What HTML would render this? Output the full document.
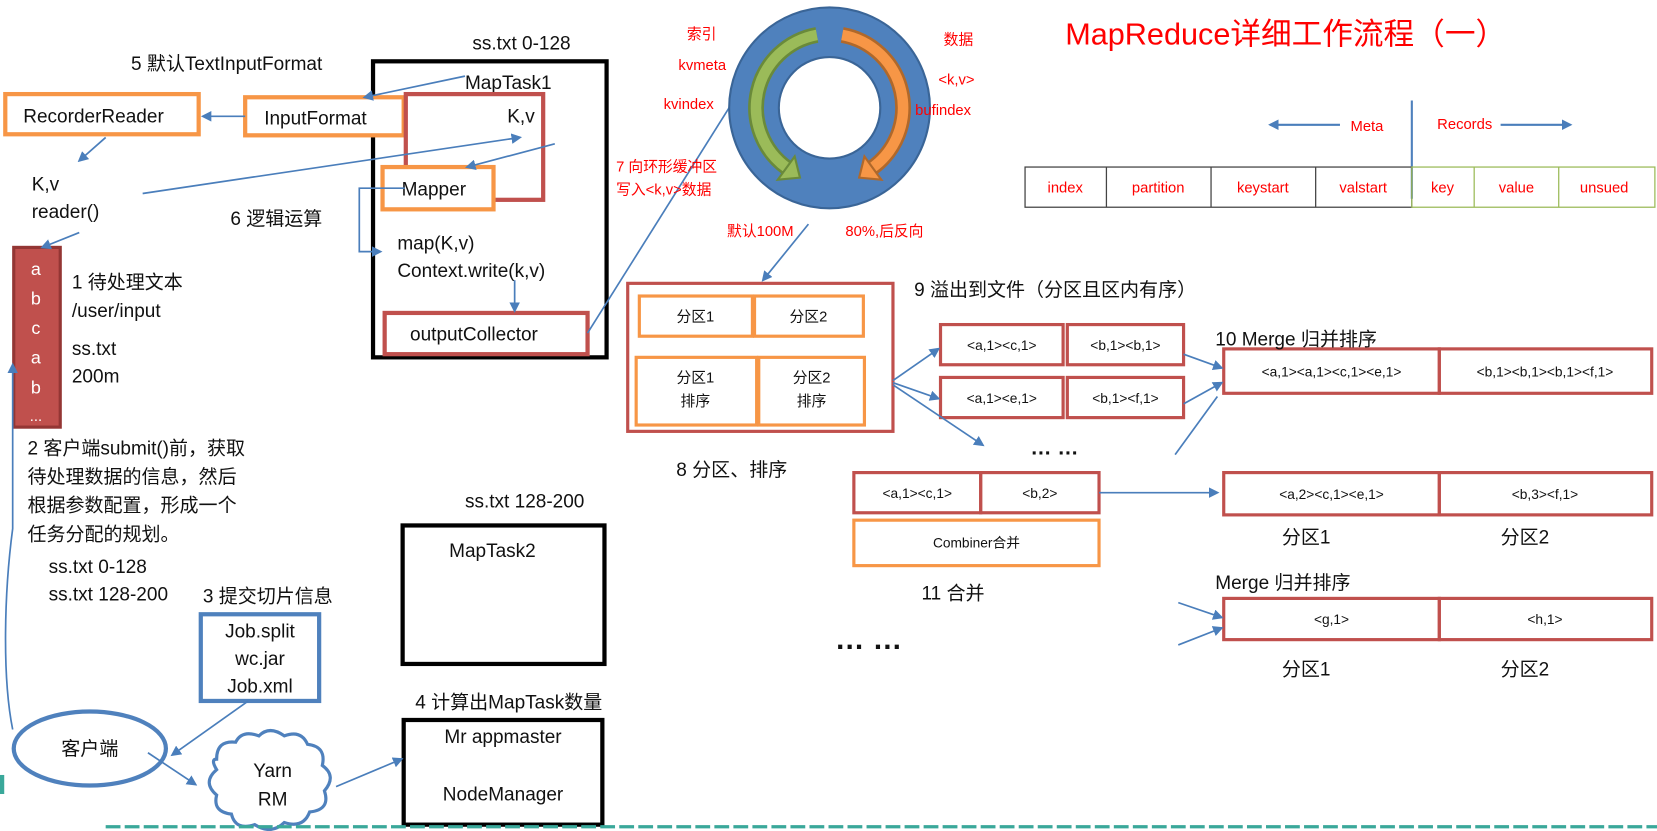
<!DOCTYPE html>
<html><head><meta charset="utf-8"><style>
html,body{margin:0;padding:0;background:#fff;width:1657px;height:831px;overflow:hidden}
svg{display:block}
text{font-family:"Liberation Sans","Noto Sans CJK SC",sans-serif;fill:#111}
.r{fill:#ff0000}
.w{fill:#fff}
</style></head><body>
<svg width="1657" height="831" viewBox="0 0 1568 786" preserveAspectRatio="none" xmlns="http://www.w3.org/2000/svg">
<defs>
<marker id="a" markerWidth="10" markerHeight="10" refX="8" refY="5" orient="auto" markerUnits="userSpaceOnUse"><path d="M0,0 L10,5 L0,10 z" fill="#4a7ebb"/></marker>
</defs>
<g font-size="18">
<text x="1008" y="42" font-size="29" class="r">MapReduce详细工作流程（一）</text>

<text x="124" y="66">5 默认TextInputFormat</text>
<text x="447" y="47">ss.txt 0-128</text>
<rect x="353" y="58" width="221" height="280" fill="none" stroke="#000" stroke-width="4"/>
<text x="440" y="84">MapTask1</text>
<rect x="5" y="89" width="183" height="38" fill="#fff" stroke="#f79646" stroke-width="4"/>
<text x="22" y="116">RecorderReader</text>
<rect x="232" y="92" width="150" height="36" fill="#fff" stroke="#f79646" stroke-width="4"/>
<text x="250" y="118">InputFormat</text>
<rect x="384" y="89" width="130" height="100" fill="none" stroke="#c0504d" stroke-width="4"/>
<text x="480" y="116">K,v</text>
<rect x="362" y="158" width="105" height="40" fill="#fff" stroke="#f79646" stroke-width="4"/>
<text x="380" y="185">Mapper</text>
<text x="376" y="236">map(K,v)</text>
<text x="376" y="262">Context.write(k,v)</text>
<rect x="364" y="296" width="192" height="39" fill="#fff" stroke="#c0504d" stroke-width="4"/>
<text x="388" y="322">outputCollector</text>
<text x="218" y="213">6 逻辑运算</text>
<text x="30" y="180">K,v</text>
<text x="30" y="206">reader()</text>

<rect x="13" y="234" width="44" height="170" fill="#c0504d" stroke="#943634" stroke-width="3"/>
<g font-size="17" text-anchor="middle">
<text x="34" y="260" class="w">a</text><text x="34" y="288" class="w">b</text><text x="34" y="316" class="w">c</text><text x="34" y="344" class="w">a</text><text x="34" y="372" class="w">b</text><text x="34" y="398" class="w" font-size="14">...</text>
</g>
<text x="68" y="273">1 待处理文本</text>
<text x="68" y="300">/user/input</text>
<text x="68" y="336">ss.txt</text>
<text x="68" y="362">200m</text>
<text x="26" y="430">2 客户端submit()前，获取</text>
<text x="26" y="457">待处理数据的信息，然后</text>
<text x="26" y="484">根据参数配置，形成一个</text>
<text x="26" y="511">任务分配的规划。</text>
<text x="46" y="542">ss.txt  0-128</text>
<text x="46" y="568">ss.txt  128-200</text>
<text x="192" y="570">3 提交切片信息</text>
<rect x="190" y="581" width="112" height="82" fill="#fff" stroke="#4f81bd" stroke-width="4"/>
<text x="246" y="603" text-anchor="middle">Job.split</text>
<text x="246" y="629" text-anchor="middle">wc.jar</text>
<text x="246" y="655" text-anchor="middle">Job.xml</text>
<text x="440" y="480">ss.txt 128-200</text>
<rect x="381" y="497" width="191" height="131" fill="none" stroke="#000" stroke-width="4"/>
<text x="425" y="527">MapTask2</text>
<text x="393" y="670">4 计算出MapTask数量</text>
<rect x="382" y="681" width="188" height="99" fill="none" stroke="#000" stroke-width="4"/>
<text x="476" y="703" text-anchor="middle">Mr appmaster</text>
<text x="476" y="757" text-anchor="middle">NodeManager</text>
<ellipse cx="85" cy="708" rx="72" ry="35" fill="#fff" stroke="#4f81bd" stroke-width="4"/>
<text x="85" y="714" text-anchor="middle">客户端</text>
<path d="M205,718 q0,-18 18,-16 q6,-12 22,-6 q10,-10 24,0 q16,-6 22,8 q18,2 14,20 q14,10 2,24 q6,18 -14,20 q-6,16 -24,10 q-12,12 -28,2 q-18,6 -22,-10 q-18,-2 -14,-18 q-14,-12 0,-24 q-6,-10 0,-10 z" fill="#fff" stroke="#4f81bd" stroke-width="3"/>
<text x="258" y="735" text-anchor="middle">Yarn</text>
<text x="258" y="762" text-anchor="middle">RM</text>

<g stroke="#4a7ebb" stroke-width="1.6" fill="none" marker-end="url(#a)">
<line x1="440" y1="72" x2="345" y2="92"/>
<line x1="232" y1="110" x2="192" y2="110"/>
<line x1="100" y1="130" x2="75" y2="152"/>
<line x1="135" y1="183" x2="492" y2="130"/>
<line x1="525" y1="136" x2="442" y2="158"/>
<polyline points="383,178 340,178 340,238 360,238"/>
<line x1="487" y1="265" x2="487" y2="294"/>
<line x1="75" y1="220" x2="40" y2="234"/>
<path d="M12,690 C2,640 4,560 12,500 L12,345"/>
<line x1="235" y1="663" x2="163" y2="714"/>
<line x1="140" y1="712" x2="185" y2="742"/>
<line x1="318" y1="744" x2="380" y2="718"/>
<line x1="556" y1="315" x2="705" y2="78"/>
<line x1="765" y1="212" x2="722" y2="265"/>
</g>

<!-- ring -->
<circle cx="785" cy="102" r="71" fill="none" stroke="#4f81bd" stroke-width="47"/>
<circle cx="785" cy="102" r="95" fill="none" stroke="#3a6597" stroke-width="2"/>
<circle cx="785" cy="102" r="48" fill="none" stroke="#3a6597" stroke-width="2"/>
<path d="M773,33 A70,70 0 0 0 745,159" fill="none" stroke="#6a8a3a" stroke-width="15"/>
<path d="M773,33 A70,70 0 0 0 745,159" fill="none" stroke="#9bbb59" stroke-width="10"/>
<polygon points="757,168 736,170 752,148" fill="#9bbb59" stroke="#6a8a3a" stroke-width="2"/>
<path d="M797,33 A70,70 0 0 1 825,159" fill="none" stroke="#b0682a" stroke-width="15"/>
<path d="M797,33 A70,70 0 0 1 825,159" fill="none" stroke="#f79646" stroke-width="10"/>
<polygon points="813,168 834,170 818,148" fill="#f79646" stroke="#b0682a" stroke-width="2"/>
<g font-size="14">
<text x="650" y="37" class="r">索引</text>
<text x="642" y="66" class="r">kvmeta</text>
<text x="628" y="103" class="r">kvindex</text>
<text x="893" y="42" class="r">数据</text>
<text x="888" y="80" class="r">&lt;k,v&gt;</text>
<text x="866" y="109" class="r">bufindex</text>
<text x="583" y="162" class="r">7 向环形缓冲区</text>
<text x="583" y="184" class="r">写入&lt;k,v&gt;数据</text>
<text x="688" y="223" class="r">默认100M</text>
<text x="800" y="223" class="r">80%,后反向</text>
</g>

<line x1="1336" y1="95" x2="1336" y2="188" stroke="#4f81bd" stroke-width="2"/>
<g stroke="#4a7ebb" stroke-width="2" marker-end="url(#a)"><line x1="1268" y1="118" x2="1202" y2="118"/><line x1="1420" y1="118" x2="1486" y2="118"/></g>
<text x="1278" y="124" font-size="14" class="r">Meta</text>
<text x="1360" y="122" font-size="14" class="r">Records</text>
<rect x="970" y="158" width="366" height="38" fill="none" stroke="#444" stroke-width="1.2"/>
<g stroke="#444" stroke-width="1.2"><line x1="1047" y1="158" x2="1047" y2="196"/><line x1="1146" y1="158" x2="1146" y2="196"/><line x1="1245" y1="158" x2="1245" y2="196"/></g>
<rect x="1336" y="158" width="230" height="38" fill="none" stroke="#9bbb59" stroke-width="1.2"/>
<g stroke="#9bbb59" stroke-width="1.2"><line x1="1395" y1="158" x2="1395" y2="196"/><line x1="1475" y1="158" x2="1475" y2="196"/></g>
<g font-size="14" text-anchor="middle">
<text x="1008" y="182" class="r">index</text><text x="1096" y="182" class="r">partition</text><text x="1195" y="182" class="r">keystart</text><text x="1290" y="182" class="r">valstart</text><text x="1365" y="182" class="r">key</text><text x="1435" y="182" class="r">value</text><text x="1518" y="182" class="r">unsued</text>
</g>

<rect x="594" y="268" width="251" height="140" fill="none" stroke="#c0504d" stroke-width="3"/>
<g fill="#fff" stroke="#f79646" stroke-width="3">
<rect x="605" y="280" width="107" height="38"/><rect x="714" y="280" width="103" height="38"/>
<rect x="602" y="338" width="114" height="64"/><rect x="718" y="338" width="100" height="64"/>
</g>
<g font-size="14" text-anchor="middle">
<text x="658" y="304">分区1</text><text x="765" y="304">分区2</text>
<text x="658" y="362">分区1</text><text x="658" y="384">排序</text>
<text x="768" y="362">分区2</text><text x="768" y="384">排序</text>
</g>
<text x="640" y="450">8 分区、排序</text>
<text x="865" y="280">9 溢出到文件（分区且区内有序）</text>

<g fill="none" stroke="#c0504d" stroke-width="3">
<rect x="890" y="307" width="116" height="38"/><rect x="1010" y="307" width="110" height="38"/>
<rect x="890" y="357" width="116" height="38"/><rect x="1010" y="357" width="110" height="38"/>
<rect x="1158" y="330" width="204" height="42"/><rect x="1362" y="330" width="201" height="42"/>
<rect x="808" y="447" width="120" height="38"/><rect x="928" y="447" width="112" height="38"/>
<rect x="1158" y="447" width="204" height="40"/><rect x="1362" y="447" width="201" height="40"/>
<rect x="1158" y="566" width="204" height="39"/><rect x="1362" y="566" width="201" height="39"/>
</g>
<rect x="808" y="492" width="232" height="43" fill="none" stroke="#f79646" stroke-width="3"/>
<g font-size="13" text-anchor="middle">
<text x="948" y="331">&lt;a,1&gt;&lt;c,1&gt;</text><text x="1065" y="331">&lt;b,1&gt;&lt;b,1&gt;</text>
<text x="948" y="381">&lt;a,1&gt;&lt;e,1&gt;</text><text x="1065" y="381">&lt;b,1&gt;&lt;f,1&gt;</text>
<text x="1260" y="356">&lt;a,1&gt;&lt;a,1&gt;&lt;c,1&gt;&lt;e,1&gt;</text><text x="1462" y="356">&lt;b,1&gt;&lt;b,1&gt;&lt;b,1&gt;&lt;f,1&gt;</text>
<text x="868" y="471">&lt;a,1&gt;&lt;c,1&gt;</text><text x="984" y="471">&lt;b,2&gt;</text>
<text x="924" y="518">Combiner合并</text>
<text x="1260" y="472">&lt;a,2&gt;&lt;c,1&gt;&lt;e,1&gt;</text><text x="1462" y="472">&lt;b,3&gt;&lt;f,1&gt;</text>
<text x="1260" y="590">&lt;g,1&gt;</text><text x="1462" y="590">&lt;h,1&gt;</text>
</g>
<text x="1150" y="327">10 Merge 归并排序</text>
<text x="1150" y="557">Merge 归并排序</text>
<text x="872" y="567">11 合并</text>
<text x="1213" y="514">分区1</text><text x="1420" y="514">分区2</text>
<text x="1213" y="639">分区1</text><text x="1420" y="639">分区2</text>
<text x="975" y="430" font-size="20" font-weight="bold">… …</text>
<text x="790" y="614" font-size="28" font-weight="bold">… …</text>

<g stroke="#4a7ebb" stroke-width="1.6" fill="none" marker-end="url(#a)">
<line x1="845" y1="360" x2="888" y2="330"/>
<line x1="845" y1="362" x2="888" y2="377"/>
<line x1="845" y1="364" x2="930" y2="421"/>
<line x1="1120" y1="335" x2="1156" y2="348"/>
<line x1="1120" y1="382" x2="1156" y2="362"/>
<line x1="1040" y1="466" x2="1152" y2="466"/>
<line x1="1115" y1="570" x2="1156" y2="584"/>
<line x1="1115" y1="610" x2="1156" y2="594"/>
</g>
<line x1="1112" y1="430" x2="1152" y2="375" stroke="#4a7ebb" stroke-width="1.6"/>

<line x1="100" y1="782" x2="1568" y2="782" stroke="#3aa89a" stroke-width="3" stroke-dasharray="14,4"/>
<rect x="0" y="733" width="4" height="18" fill="#3aa89a"/>
</g>
</svg>
</body></html>
